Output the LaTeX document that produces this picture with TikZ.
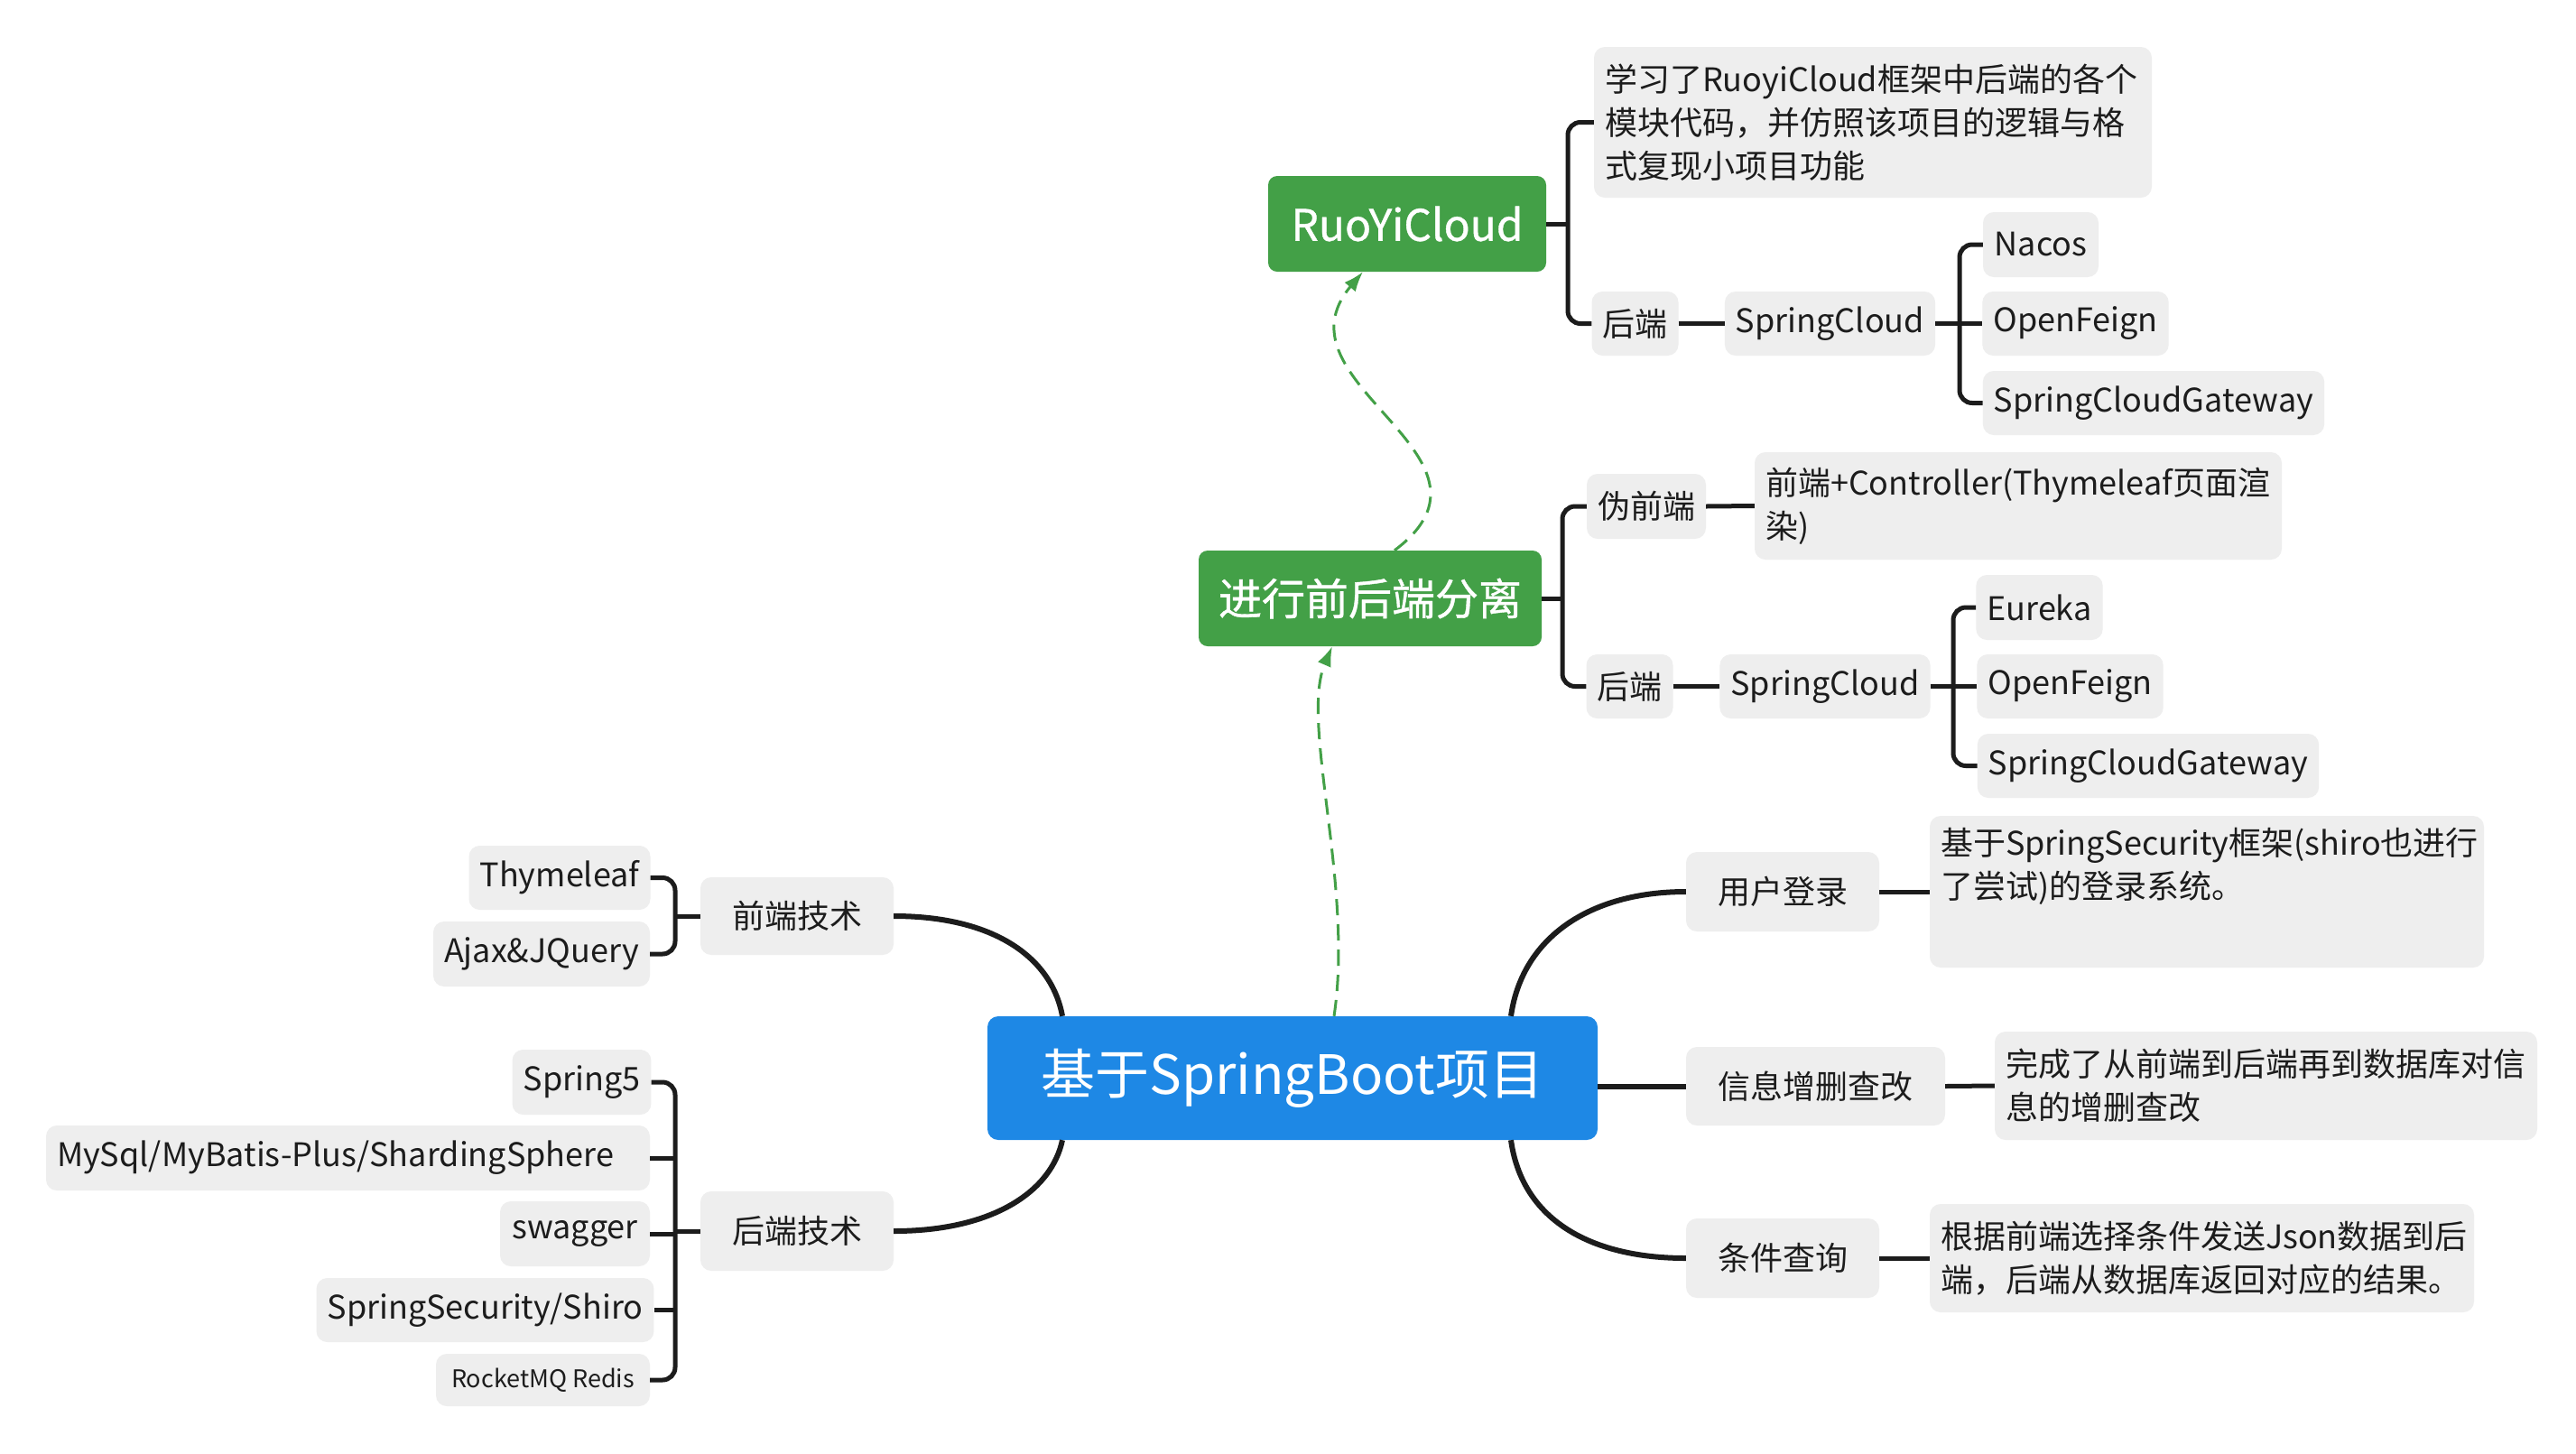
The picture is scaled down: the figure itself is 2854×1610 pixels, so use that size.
\documentclass[tikz,border=0pt]{standalone}
\usepackage{fontspec}
\setmainfont{Noto Sans CJK SC}
\newfontfamily\medfont[FakeBold=0.8]{Noto Sans CJK SC}
\usetikzlibrary{arrows.meta}
\hyphenpenalty=10000 \exhyphenpenalty=10000
\definecolor{rootblue}{HTML}{1E88E5}
\definecolor{mgreen}{HTML}{43A047}
\definecolor{leafgray}{HTML}{EEEEEE}
\definecolor{ink}{HTML}{1C1C1C}
\begin{document}
\begin{tikzpicture}[x=1pt,y=-1pt,
  leaf/.style={fill=leafgray, rounded corners=12pt, inner xsep=12pt, inner ysep=0pt, align=left, text=ink, font=\fontsize{36}{48}\selectfont},
  small leaf/.style={leaf, font=\fontsize{27}{34}\selectfont},
  mainbox/.style={fill=mgreen, rounded corners=10pt, text=white, inner sep=0pt, font=\medfont\fontsize{48}{56}\selectfont},
  rootbox/.style={fill=rootblue, rounded corners=12pt, text=white, inner sep=0pt, font=\fontsize{60}{70}\selectfont},
  link/.style={draw=ink, line width=5pt, rounded corners=14pt},
  curve/.style={draw=ink, line width=6pt},
  dash link/.style={draw=mgreen, line width=3pt, dash pattern=on 18pt off 10pt, -{Latex[length=22pt,width=16pt]}}
]
\fill[white] (0,0) rectangle (2854,1610);
\useasboundingbox (0,0) rectangle (2854,1610);

% main nodes
\node[rootbox, minimum width=676pt, minimum height=137pt] (root) at (1432,1194.5) {基于SpringBoot项目};
\node[mainbox, minimum width=308pt, minimum height=106pt] (ruoyi) at (1559,248) {RuoYiCloud};
\node[mainbox, minimum width=380pt, minimum height=106pt] (sep) at (1518,663) {进行前后端分离};

% RuoYiCloud branch
\node[leaf, text width=594pt, minimum height=167pt] (t1) at (2075,135.5) {学习了RuoyiCloud框架中后端的各个\\模块代码，并仿照该项目的逻辑与格\\式复现小项目功能};
\node[leaf, minimum width=95pt, minimum height=71pt] (rb) at (1811.5,358.5) {后端};
\node[leaf, minimum width=229pt, minimum height=71pt] (rsc) at (2027.5,358.5) {SpringCloud};
\node[leaf, minimum width=128pt, minimum height=72pt] (nacos) at (2261,271) {Nacos};
\node[leaf, minimum width=205pt, minimum height=71pt] (rof) at (2299.5,358.5) {OpenFeign};
\node[leaf, minimum width=378pt, minimum height=71pt] (rgw) at (2386,446.5) {SpringCloudGateway};

% separation branch
\node[leaf, minimum width=130pt, minimum height=72pt] (fake) at (1824,561) {伪前端};
\node[leaf, text width=560pt, minimum height=119pt] (t2) at (2236,560.5) {前端+Controller(Thymeleaf页面渲\\染)};
\node[leaf, minimum width=93pt, minimum height=71pt] (sb) at (1805.5,760.5) {后端};
\node[leaf, minimum width=228pt, minimum height=71pt] (ssc) at (2022,760.5) {SpringCloud};
\node[leaf, minimum width=135pt, minimum height=72pt] (eureka) at (2259.5,673) {Eureka};
\node[leaf, minimum width=203pt, minimum height=71pt] (sof) at (2293.5,760.5) {OpenFeign};
\node[leaf, minimum width=376pt, minimum height=71pt] (sgw) at (2380,848.5) {SpringCloudGateway};

% left branches
\node[leaf, minimum width=214pt, minimum height=86pt] (front) at (883,1015) {前端技术};
\node[leaf, minimum width=200pt, minimum height=71pt] (thy) at (620,972.5) {Thymeleaf};
\node[leaf, minimum width=240pt, minimum height=72pt] (ajax) at (600,1057) {Ajax\&JQuery};
\node[leaf, minimum width=214pt, minimum height=88pt] (back) at (883,1364) {后端技术};
\node[leaf, minimum width=151pt, minimum height=72pt] (spring5) at (644.5,1199) {Spring5};
\node[leaf, text width=645pt, minimum height=72pt] (mysql) at (385.5,1283) {MySql/MyBatis-Plus/ShardingSphere};
\node[leaf, minimum width=166pt, minimum height=72pt] (swagger) at (637,1367) {swagger};
\node[leaf, minimum width=365pt, minimum height=71pt] (sec) at (537.5,1451.5) {SpringSecurity/Shiro};
\node[small leaf, minimum width=237pt, minimum height=58pt] (mq) at (601.5,1529) {RocketMQ Redis};

% right branches
\node[leaf, minimum width=214pt, minimum height=88pt] (login) at (1975,988) {用户登录};
\node[leaf, text width=590pt, minimum height=168pt] (t3) at (2445,988) {基于SpringSecurity框架(shiro也进行\\了尝试)的登录系统。\\\strut};
\node[leaf, minimum width=287pt, minimum height=87pt] (crud) at (2011.5,1203.5) {信息增删查改};
\node[leaf, text width=577pt, minimum height=120pt] (t4) at (2510.5,1203) {完成了从前端到后端再到数据库对信\\息的增删查改};
\node[leaf, minimum width=214pt, minimum height=88pt] (query) at (1975,1394) {条件查询};
\node[leaf, text width=579pt, minimum height=120pt] (t5) at (2439.5,1394) {根据前端选择条件发送Json数据到后\\端，后端从数据库返回对应的结果。};

% junction points
\coordinate (jr) at (1737,248);
\coordinate (jrs) at (2171,358.5);
\coordinate (js) at (1731,663);
\coordinate (jss) at (2164,760.5);
\coordinate (jf) at (748,1015);
\coordinate (jb) at (748,1364);

% RuoYiCloud connectors
\draw[link] (ruoyi.east) -- (jr);
\draw[link] (t1.west) -| (jr) |- (rb.west);
\draw[link] (rb.east) -- (rsc.west);
\draw[link] (rsc.east) -- (rof.west);
\draw[link] (nacos.west) -| (jrs) |- (rgw.west);

% separation connectors
\draw[link] (sep.east) -- (js);
\draw[link] (fake.west) -| (js) |- (sb.west);
\draw[link] (fake.east) -- (t2.west);
\draw[link] (sb.east) -- (ssc.west);
\draw[link] (ssc.east) -- (sof.west);
\draw[link] (eureka.west) -| (jss) |- (sgw.west);

% left connectors
\draw[link] (front.west) -- (jf);
\draw[link] (thy.east) -| (jf) |- (ajax.east);
\draw[link] (back.west) -- (jb);
\draw[link] (spring5.east) -| (jb) |- (mq.east);
\draw[link] (mysql.east) -- (mysql.east -| jb);
\draw[link] (swagger.east) -- (swagger.east -| jb);
\draw[link] (sec.east) -- (sec.east -| jb);

% right connectors
\draw[link] (login.east) -- (t3.west);
\draw[link] (crud.east) -- (t4.west);
\draw[link] (query.east) -- (t5.west);

% main curves
\draw[curve] ([xshift=242pt]root.north) .. controls (1686,1040) and (1760,988) .. (login.west);
\draw[curve] (root.east |- crud.west) -- (crud.west);
\draw[curve] ([xshift=242pt]root.south) .. controls (1686,1350) and (1760,1394) .. (query.west);
\draw[curve] ([xshift=-255pt]root.north) .. controls (1165,1060) and (1100,1015) .. (front.east);
\draw[curve] ([xshift=-255pt]root.south) .. controls (1165,1320) and (1100,1364) .. (back.east);

% dashed relations
\draw[dash link] ([xshift=46pt]root.north) .. controls (1500,980) and (1440,800) .. ([xshift=-42pt]sep.south);
\draw[dash link] ([xshift=27pt]sep.north) .. controls (1685,505) and (1405,425) .. ([xshift=-49pt]ruoyi.south);
\end{tikzpicture}
\end{document}
